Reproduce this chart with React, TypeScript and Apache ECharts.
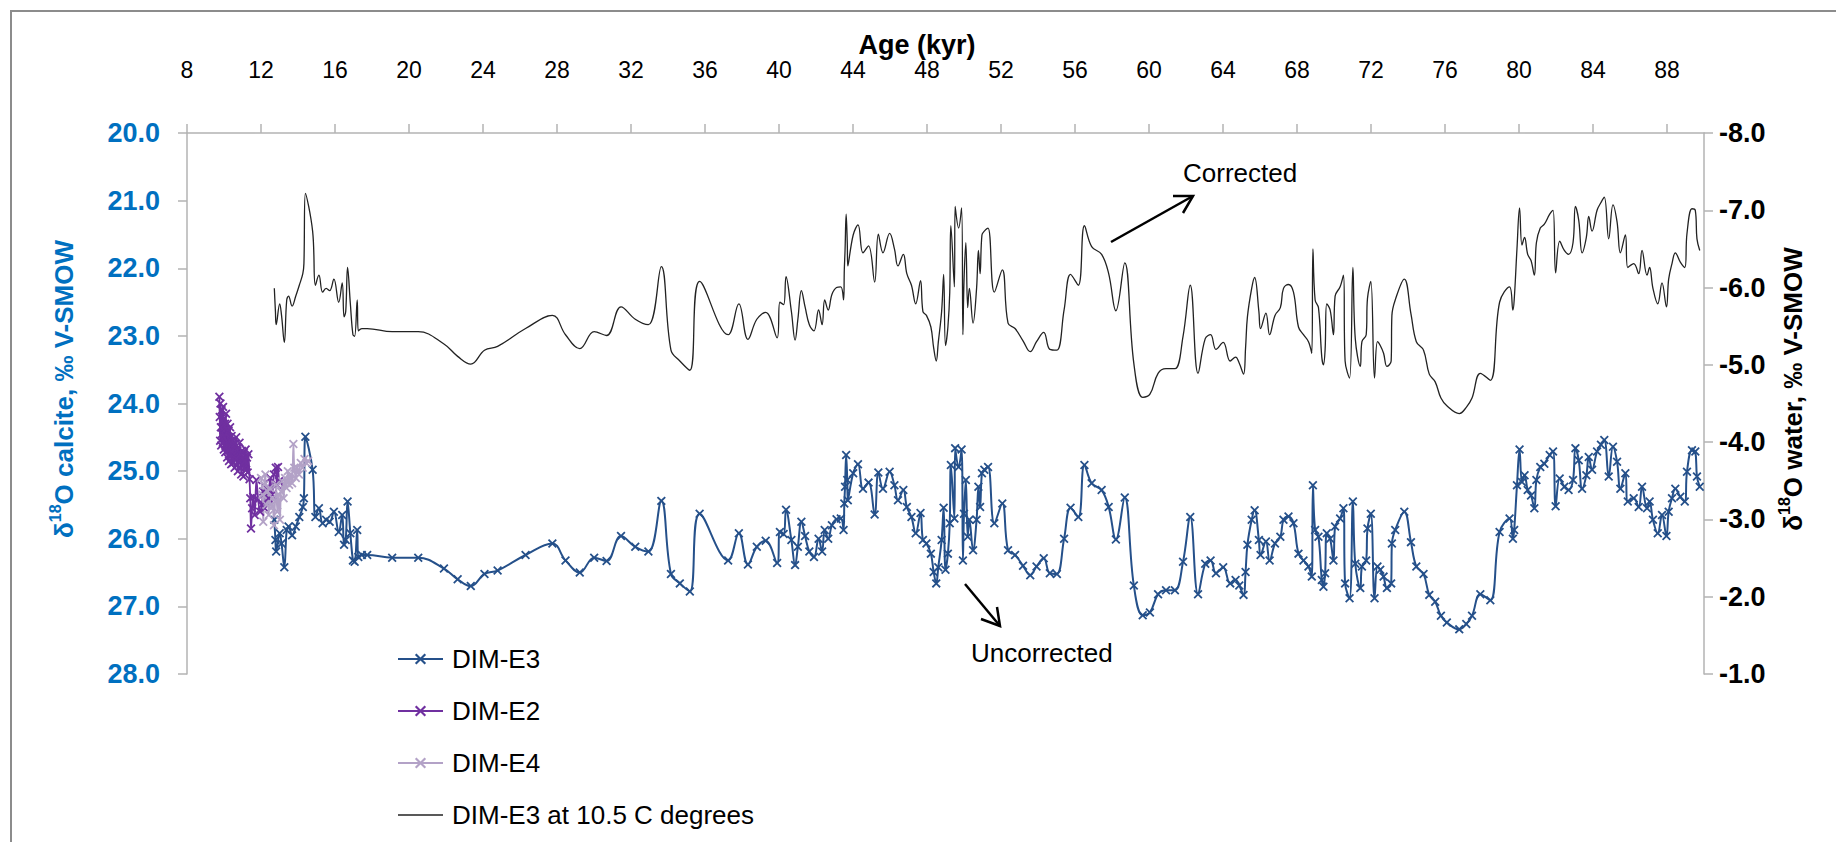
import React, { useEffect, useRef } from 'react';
import * as echarts from 'echarts';

// ---------- DATA ----------
const xTicks = [8, 12, 16, 20, 24, 28, 32, 36, 40, 44, 48, 52, 56, 60, 64, 68, 72, 76, 80, 84, 88];

// DIM-E3 sample ages (kyr)
const e3Age = [
  12.72, 12.78, 12.82, 13.01, 13.11, 13.26, 13.39, 13.49, 13.68, 13.88,
  14.07, 14.26, 14.32, 14.40, 14.79, 14.94, 15.13, 15.33, 15.52, 15.71,
  15.94, 16.20, 16.39, 16.49, 16.58, 16.68, 16.83, 16.97, 17.06, 17.20,
  17.26, 17.45, 17.74, 19.09, 20.50, 21.89, 22.63, 23.34, 24.08, 24.79,
  26.30, 27.75, 28.46, 29.23, 30.01, 30.68, 31.46, 32.23, 32.94, 33.64,
  34.16, 34.64, 35.18, 35.71, 37.25, 37.83, 38.32, 38.80, 39.28, 39.90,
  40.05, 40.25, 40.38, 40.67, 40.87, 41.02, 41.21, 41.41, 41.64, 41.89,
  42.14, 42.33, 42.47, 42.66, 42.86, 43.11, 43.34, 43.49, 43.53, 43.57,
  43.63, 43.69, 43.72, 44.01, 44.27, 44.54, 44.84, 45.17, 45.37, 45.62,
  45.98, 46.24, 46.43, 46.72, 46.91, 47.16, 47.39, 47.65, 47.78, 47.97,
  48.21, 48.36, 48.50, 48.61, 48.79, 48.90, 49.00, 49.13, 49.23, 49.29,
  49.48, 49.52, 49.71, 49.87, 49.94, 50.00, 50.10, 50.20, 50.29, 50.49,
  50.68, 50.78, 50.87, 50.97, 51.10, 51.30, 51.64, 52.07, 52.38, 52.76,
  53.19, 53.58, 53.92, 54.31, 54.64, 55.02, 55.41, 55.76, 56.18, 56.51,
  56.90, 57.44, 57.82, 58.21, 58.69, 59.18, 59.66, 60.05, 60.49, 60.92,
  61.40, 61.84, 62.23, 62.65, 63.04, 63.33, 63.62, 64.01, 64.39, 64.68,
  64.88, 65.11, 65.22, 65.32, 65.55, 65.71, 65.94, 66.03, 66.32, 66.52,
  66.81, 67.10, 67.27, 67.54, 67.81, 68.08, 68.35, 68.62, 68.80, 68.86,
  68.98, 69.16, 69.34, 69.43, 69.52, 69.61, 69.79, 69.97, 70.06, 70.33,
  70.51, 70.60, 70.84, 71.02, 71.15, 71.42, 71.51, 71.74, 71.81, 71.99,
  72.19, 72.35, 72.50, 72.68, 72.86, 73.09, 73.13, 73.31, 73.80, 74.16,
  74.45, 74.84, 75.15, 75.47, 75.78, 76.10, 76.77, 77.15, 77.46, 77.91,
  78.45, 78.95, 79.49, 79.67, 79.74, 79.89, 80.03, 80.16, 80.30, 80.47,
  80.65, 80.83, 80.94, 81.15, 81.37, 81.66, 81.84, 81.98, 82.20, 82.45,
  82.68, 82.92, 83.05, 83.23, 83.41, 83.64, 83.77, 83.95, 84.22, 84.43,
  84.61, 84.85, 85.08, 85.30, 85.48, 85.75, 85.88, 86.20, 86.47, 86.65,
  86.92, 87.06, 87.24, 87.50, 87.73, 87.97, 88.09, 88.27, 88.45, 88.72,
  88.96, 89.08, 89.35, 89.53, 89.62, 89.77,
];

// DIM-E3 δ18O calcite (‰ V-SMOW), left axis
const e3Calcite = [
  25.72, 26.02, 26.19, 25.92, 26.07, 26.42, 25.87, 25.82, 25.95, 25.82,
  25.68, 25.53, 25.40, 24.49, 24.98, 25.68, 25.55, 25.77, 25.72, 25.75,
  25.60, 25.90, 25.65, 26.09, 26.02, 25.45, 25.92, 26.32, 26.34, 25.87,
  26.27, 26.24, 26.24, 26.28, 26.28, 26.44, 26.60, 26.70, 26.52, 26.47,
  26.24, 26.07, 26.32, 26.50, 26.28, 26.33, 25.96, 26.12, 26.19, 25.44,
  26.52, 26.66, 26.78, 25.63, 26.32, 25.92, 26.38, 26.12, 26.03, 26.36,
  25.90, 25.93, 25.57, 26.02, 26.39, 26.12, 25.75, 25.96, 26.19, 26.27,
  26.00, 26.19, 25.87, 26.00, 25.80, 25.71, 25.70, 25.87, 25.48, 25.23,
  24.76, 25.13, 25.43, 25.03, 24.90, 25.26, 25.17, 25.64, 25.02, 25.26,
  25.01, 25.21, 25.43, 25.28, 25.53, 25.68, 25.92, 25.62, 26.02, 26.07,
  26.22, 26.49, 26.66, 26.42, 26.02, 25.54, 26.46, 26.22, 25.77, 24.91,
  25.70, 24.66, 24.94, 24.68, 26.32, 25.63, 25.13, 25.97, 25.72, 26.17,
  25.72, 25.23, 25.53, 25.03, 24.98, 24.94, 25.77, 25.48, 26.17, 26.24,
  26.40, 26.54, 26.41, 26.29, 26.51, 26.52, 26.00, 25.54, 25.68, 24.91,
  25.18, 25.28, 25.53, 26.01, 25.39, 26.69, 27.13, 27.09, 26.82, 26.76,
  26.76, 26.34, 25.68, 26.82, 26.37, 26.32, 26.51, 26.42, 26.66, 26.61,
  26.69, 26.83, 26.49, 26.09, 25.72, 25.58, 26.02, 26.24, 26.04, 26.32,
  26.07, 25.97, 25.72, 25.67, 25.77, 26.22, 26.32, 26.41, 26.56, 25.21,
  25.87, 25.97, 26.61, 26.71, 26.51, 25.92, 26.00, 26.32, 25.82, 25.70,
  25.55, 26.66, 26.88, 25.45, 26.37, 26.73, 26.41, 26.32, 25.85, 25.63,
  26.88, 26.41, 26.46, 26.56, 26.73, 26.66, 26.07, 25.87, 25.60, 26.05,
  26.41, 26.52, 26.83, 26.93, 27.14, 27.24, 27.34, 27.26, 27.14, 26.82,
  26.91, 25.90, 25.70, 26.00, 25.87, 25.21, 24.68, 25.16, 25.06, 25.28,
  25.36, 25.55, 25.13, 24.94, 24.89, 24.76, 24.71, 25.52, 25.11, 25.23,
  25.28, 25.13, 24.66, 24.84, 25.26, 25.06, 24.79, 24.98, 24.71, 24.61,
  24.54, 25.08, 24.64, 24.86, 25.26, 25.03, 25.45, 25.40, 25.53, 25.23,
  25.55, 25.45, 25.72, 25.92, 25.65, 25.96, 25.60, 25.40, 25.26, 25.38,
  25.45, 25.01, 24.69, 24.71, 25.08, 25.23,
];

// DIM-E3 at 10.5 C degrees: δ18O water (‰ V-SMOW), right axis
const e3Water = [
  -5.99, -5.69, -5.52, -5.79, -5.64, -5.29, -5.84, -5.89, -5.76, -5.89,
  -6.03, -6.18, -6.31, -7.22, -6.73, -6.03, -6.16, -5.94, -5.99, -5.96,
  -6.11, -5.81, -6.06, -5.62, -5.69, -6.26, -5.79, -5.39, -5.37, -5.84,
  -5.44, -5.47, -5.47, -5.43, -5.43, -5.27, -5.11, -5.01, -5.19, -5.24,
  -5.47, -5.64, -5.39, -5.21, -5.43, -5.38, -5.75, -5.59, -5.52, -6.27,
  -5.19, -5.05, -4.93, -6.08, -5.39, -5.79, -5.33, -5.59, -5.68, -5.35,
  -5.81, -5.78, -6.14, -5.69, -5.32, -5.59, -5.96, -5.75, -5.52, -5.44,
  -5.71, -5.52, -5.84, -5.71, -5.91, -6.00, -6.01, -5.84, -6.23, -6.48,
  -6.95, -6.58, -6.28, -6.68, -6.81, -6.45, -6.54, -6.07, -6.69, -6.45,
  -6.70, -6.50, -6.28, -6.43, -6.18, -6.03, -5.79, -6.09, -5.69, -5.64,
  -5.49, -5.22, -5.05, -5.29, -5.69, -6.17, -5.25, -5.49, -5.94, -6.80,
  -6.01, -7.05, -6.77, -7.03, -5.39, -6.08, -6.58, -5.74, -5.99, -5.54,
  -5.99, -6.48, -6.18, -6.68, -6.73, -6.77, -5.94, -6.23, -5.54, -5.47,
  -5.31, -5.17, -5.30, -5.42, -5.20, -5.19, -5.71, -6.17, -6.03, -6.80,
  -6.53, -6.43, -6.18, -5.70, -6.32, -5.02, -4.58, -4.62, -4.89, -4.95,
  -4.95, -5.37, -6.03, -4.89, -5.34, -5.39, -5.20, -5.29, -5.05, -5.10,
  -5.02, -4.88, -5.22, -5.62, -5.99, -6.13, -5.69, -5.47, -5.67, -5.39,
  -5.64, -5.74, -5.99, -6.04, -5.94, -5.49, -5.39, -5.30, -5.15, -6.50,
  -5.84, -5.74, -5.10, -5.00, -5.20, -5.79, -5.71, -5.39, -5.89, -6.01,
  -6.16, -5.05, -4.83, -6.26, -5.34, -4.98, -5.30, -5.39, -5.86, -6.08,
  -4.83, -5.30, -5.25, -5.15, -4.98, -5.05, -5.64, -5.84, -6.11, -5.66,
  -5.30, -5.19, -4.88, -4.78, -4.57, -4.47, -4.37, -4.45, -4.57, -4.89,
  -4.80, -5.81, -6.01, -5.71, -5.84, -6.50, -7.03, -6.55, -6.65, -6.43,
  -6.35, -6.16, -6.58, -6.77, -6.82, -6.95, -7.00, -6.19, -6.60, -6.48,
  -6.43, -6.58, -7.05, -6.87, -6.45, -6.65, -6.92, -6.73, -7.00, -7.10,
  -7.17, -6.63, -7.07, -6.85, -6.45, -6.68, -6.26, -6.31, -6.18, -6.48,
  -6.16, -6.26, -5.99, -5.79, -6.06, -5.75, -6.11, -6.31, -6.45, -6.33,
  -6.26, -6.70, -7.02, -7.00, -6.63, -6.48,
];

// DIM-E2
const e2Age = [
  9.75, 9.77, 9.79, 9.81, 9.83, 9.85, 9.87, 9.89, 9.91, 9.93,
  9.95, 9.97, 9.99, 10.01, 10.03, 10.05, 10.07, 10.09, 10.11, 10.13,
  10.15, 10.17, 10.19, 10.21, 10.23, 10.25, 10.27, 10.29, 10.31, 10.33,
  10.35, 10.37, 10.39, 10.41, 10.43, 10.45,
  10.48, 10.51, 10.54, 10.57, 10.60, 10.63, 10.66, 10.69, 10.72, 10.75,
  10.78, 10.81, 10.84, 10.87, 10.90, 10.93, 10.96, 10.99, 11.02, 11.05,
  11.08, 11.11, 11.14, 11.17, 11.20,
  11.24, 11.28, 11.32,
  11.38, 11.42, 11.46, 11.52, 11.58, 11.66, 11.75, 11.85, 11.95, 12.04,
  12.12, 12.20, 12.30, 12.40, 12.50, 12.60, 12.70, 12.80, 12.85, 12.92,
  12.97,
];
const e2Calcite = [
  23.90, 24.20, 24.55, 24.00, 24.35, 24.62, 24.10, 24.45, 24.25, 24.58,
  24.05, 24.40, 24.68, 24.22, 24.50, 24.30, 24.72, 24.38, 24.15, 24.60,
  24.45, 24.80, 24.30, 24.55, 24.70, 24.40, 24.85, 24.50, 24.62, 24.35,
  24.78, 24.55, 24.90, 24.48, 24.70, 24.60,
  24.88, 24.55, 24.75, 24.95, 24.60, 24.82, 24.50, 24.92, 24.70, 25.00,
  24.65, 24.85, 24.58, 24.95, 24.75, 25.05, 24.70, 24.90, 24.80, 25.08,
  24.72, 24.95, 24.85, 24.68, 24.98,
  24.80, 25.02, 24.75,
  25.12, 25.40, 25.85, 25.55, 25.38, 25.65, 25.13, 25.42, 25.60, 25.50,
  25.30, 25.55, 25.25, 25.40, 25.10, 25.35, 25.05, 24.95, 25.20, 24.94,
  25.15,
];

// DIM-E4
const e4Age = [
  12.00, 12.08, 12.12, 12.18, 12.24, 12.30, 12.36, 12.42, 12.48, 12.55,
  12.62, 12.70, 12.76, 12.82, 12.88, 12.95, 13.02, 13.08, 13.15, 13.22,
  13.30, 13.38, 13.45, 13.52, 13.60, 13.68, 13.75, 13.80, 13.88, 13.95,
  14.05, 14.15, 14.25, 14.35, 14.45, 14.55,
];
const e4Calcite = [
  25.10, 25.35, 25.75, 25.20, 25.05, 25.50, 25.30, 25.65, 25.25, 25.55,
  25.40, 25.80, 25.45, 25.20, 25.60, 25.35, 25.72, 25.30, 25.15, 25.40,
  25.10, 25.25, 25.00, 25.20, 25.05, 25.18, 24.60, 24.95, 25.10, 24.95,
  25.05, 24.88, 24.95, 24.82, 24.88, 24.85,
];

const seriesNames = ['DIM-E3', 'DIM-E2', 'DIM-E4', 'DIM-E3 at 10.5 C degrees'];

// ---------- STYLE ----------
const FONT = '"Liberation Sans", Arial, Helvetica, sans-serif';
const X_MARK = 'path://M0,1.4L1.4,0L5,3.6L8.6,0L10,1.4L6.4,5L10,8.6L8.6,10L5,6.4L1.4,10L0,8.6L3.6,5Z';
const C_E3 = '#25508A';
const C_E2 = '#7030A0';
const C_E4 = '#B3A2C7';
const C_BLUE = '#0070C0';
const AXIS_GRAY = '#b3b3b3';

const zip = (a: number[], b: number[]) => a.map((v, i) => [v, b[i]]);

export default function App() {
  const ref = useRef<HTMLDivElement>(null);

  useEffect(() => {
    if (!ref.current) return;
    const chart = echarts.init(ref.current, null, { renderer: 'svg' });
    const richTitle = (color: string) => ({
      a: { fontSize: 26, fontWeight: 'bold', fontFamily: FONT, color, lineHeight: 34 },
      s: { fontSize: 16, fontWeight: 'bold', fontFamily: FONT, color, lineHeight: 22, verticalAlign: 'top' },
    });
    const yLabel = (color: string, margin: number) => ({
      margin,
      fontSize: 27,
      fontWeight: 'bold',
      color,
      fontFamily: FONT,
      formatter: (v: number) => v.toFixed(1),
    });
    chart.setOption({
      animation: false,
      backgroundColor: '#ffffff',
      grid: { left: 187, top: 133, width: 1517, height: 541, containLabel: false },
      xAxis: {
        type: 'value',
        position: 'top',
        min: 8,
        max: 90,
        interval: 4,
        axisLine: { show: true, lineStyle: { color: AXIS_GRAY, width: 1.5 } },
        axisTick: { show: true, inside: false, length: 9, lineStyle: { color: AXIS_GRAY, width: 1.5 }, customValues: xTicks },
        axisLabel: { customValues: xTicks, margin: 52, fontSize: 23, color: '#000', fontFamily: FONT },
        splitLine: { show: false },
      },
      yAxis: [
        {
          type: 'value',
          position: 'left',
          min: 20,
          max: 28,
          interval: 1,
          inverse: true,
          axisLine: { show: true, lineStyle: { color: AXIS_GRAY, width: 1.5 } },
          axisTick: { show: true, inside: false, length: 9, lineStyle: { color: AXIS_GRAY, width: 1.5 } },
          axisLabel: yLabel(C_BLUE, 27),
          splitLine: { show: false },
        },
        {
          type: 'value',
          position: 'right',
          min: -8,
          max: -1,
          interval: 1,
          inverse: true,
          axisLine: { show: true, lineStyle: { color: AXIS_GRAY, width: 1.5 } },
          axisTick: { show: true, inside: false, length: 9, lineStyle: { color: AXIS_GRAY, width: 1.5 } },
          axisLabel: yLabel('#000', 15),
          splitLine: { show: false },
        },
      ],
      legend: {
        orient: 'vertical',
        left: 392,
        top: 639,
        itemWidth: 45,
        itemHeight: 14,
        itemGap: 22,
        data: [
          seriesNames[0],
          seriesNames[1],
          seriesNames[2],
          { name: seriesNames[3], icon: 'path://M0,0H45V1.4H0Z' },
        ],
        textStyle: { fontSize: 26, lineHeight: 30, color: '#000', fontFamily: FONT, padding: [0, 0, 0, 4] },
      },
      graphic: [
        {
          type: 'rect',
          silent: true,
          z: -1,
          shape: { x: 11, y: 11, width: 1900, height: 900 },
          style: { fill: 'none', stroke: '#8c8c8c', lineWidth: 2 },
        },
        {
          type: 'text',
          x: 917,
          y: 45,
          style: { text: 'Age (kyr)', fill: '#000', fontSize: 27, fontWeight: 'bold', fontFamily: FONT, align: 'center', verticalAlign: 'middle' },
        },
        {
          type: 'text',
          x: 64,
          y: 389,
          rotation: Math.PI / 2,
          style: {
            text: '{a|δ}{s|18}{a|O calcite, ‰ V-SMOW}',
            rich: richTitle(C_BLUE),
            fill: C_BLUE,
            fontSize: 26,
            fontWeight: 'bold',
            fontFamily: FONT,
            align: 'center',
            verticalAlign: 'middle',
          },
        },
        {
          type: 'text',
          x: 1793,
          y: 389,
          rotation: Math.PI / 2,
          style: {
            text: '{a|δ}{s|18}{a|O water, ‰ V-SMOW}',
            rich: richTitle('#000'),
            fill: '#000',
            fontSize: 26,
            fontWeight: 'bold',
            fontFamily: FONT,
            align: 'center',
            verticalAlign: 'middle',
          },
        },
        {
          type: 'text',
          x: 1183,
          y: 173,
          style: { text: 'Corrected', fill: '#000', fontSize: 26, fontFamily: FONT, align: 'left', verticalAlign: 'middle' },
        },
        {
          type: 'text',
          x: 971,
          y: 653,
          style: { text: 'Uncorrected', fill: '#000', fontSize: 26, fontFamily: FONT, align: 'left', verticalAlign: 'middle' },
        },
        {
          type: 'line',
          shape: { x1: 1111, y1: 242, x2: 1193, y2: 196 },
          style: { stroke: '#000', lineWidth: 2.5 },
        },
        {
          type: 'polyline',
          shape: { points: [[1173, 196], [1193, 196], [1183, 213]] },
          style: { stroke: '#000', lineWidth: 2.5, fill: 'none' },
        },
        {
          type: 'line',
          shape: { x1: 965, y1: 584, x2: 1000, y2: 626 },
          style: { stroke: '#000', lineWidth: 2.5 },
        },
        {
          type: 'polyline',
          shape: { points: [[981, 619], [1000, 626], [997, 607]] },
          style: { stroke: '#000', lineWidth: 2.5, fill: 'none' },
        },
      ],
      series: [
        {
          name: seriesNames[0],
          type: 'line',
          yAxisIndex: 0,
          data: zip(e3Age, e3Calcite),
          smooth: 0.4,
          symbol: X_MARK,
          symbolSize: 9,
          lineStyle: { color: C_E3, width: 2 },
          itemStyle: { color: C_E3 },
        },
        {
          name: seriesNames[1],
          type: 'line',
          yAxisIndex: 0,
          data: zip(e2Age, e2Calcite),
          smooth: 0.4,
          symbol: X_MARK,
          symbolSize: 9,
          lineStyle: { color: C_E2, width: 1.8 },
          itemStyle: { color: C_E2 },
        },
        {
          name: seriesNames[2],
          type: 'line',
          yAxisIndex: 0,
          data: zip(e4Age, e4Calcite),
          smooth: 0.4,
          symbol: X_MARK,
          symbolSize: 9,
          lineStyle: { color: C_E4, width: 1.8 },
          itemStyle: { color: C_E4 },
        },
        {
          name: seriesNames[3],
          type: 'line',
          yAxisIndex: 1,
          data: zip(e3Age, e3Water),
          smooth: 0.4,
          symbol: 'none',
          lineStyle: { color: '#222', width: 1.3 },
          itemStyle: { color: '#222' },
        },
      ],
    });
    return () => chart.dispose();
  }, []);

  return (
    <div
      ref={ref}
      style={{ position: 'fixed', left: 0, top: 0, width: 1836, height: 842, background: '#fff' }}
    />
  );
}
